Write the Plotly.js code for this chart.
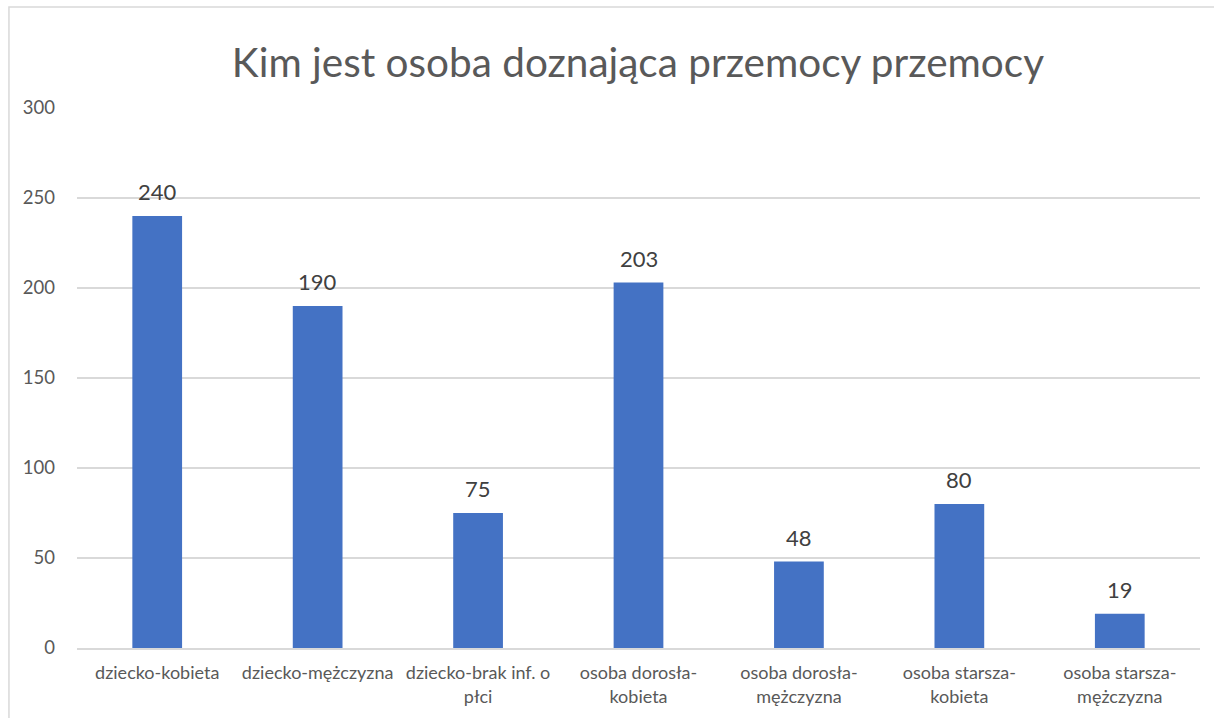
<!DOCTYPE html>
<html>
<head>
<meta charset="utf-8">
<script src="https://cdn.plot.ly/plotly-3.0.1.min.js"></script>
<style>html,body{margin:0;padding:0;background:#fff;}#chart{width:1214px;height:718px;}</style>
</head>
<body>
<div id="chart"></div>
<script>
const categories = [
  "dziecko-kobieta",
  "dziecko-mężczyzna",
  "dziecko-brak inf. o<br>płci",
  "osoba dorosła-<br>kobieta",
  "osoba dorosła-<br>mężczyzna",
  "osoba starsza-<br>kobieta",
  "osoba starsza-<br>mężczyzna"
];
const values = [240, 190, 75, 203, 48, 80, 19];
const yTicks = [0, 50, 100, 150, 200, 250, 300];
const titleText = "Kim jest osoba doznająca przemocy przemocy";

const fontFam = "Lato, 'Open Sans', sans-serif";

const trace = {
  type: "bar",
  x: categories,
  y: values,
  marker: {color: "#4472C4"},
  hoverinfo: "skip"
};

const labelAnnotations = categories.map((c, i) => ({
  x: c,
  y: values[i],
  xref: "x",
  yref: "y",
  text: String(values[i]),
  showarrow: false,
  yanchor: "bottom",
  xanchor: "center",
  yshift: 9,
  font: {family: fontFam, size: 22, color: "#404040"}
}));

const layout = {
  width: 1214,
  height: 718,
  margin: {l: 77, r: 14, t: 108, b: 70},
  paper_bgcolor: "#ffffff",
  plot_bgcolor: "#ffffff",
  bargap: 0.69,
  showlegend: false,
  title: {
    text: titleText,
    font: {family: fontFam, size: 40.5, color: "#595959"},
    x: 0.5255, xanchor: "center",
    y: 0.913, yanchor: "middle"
  },
  xaxis: {
    type: "category",
    showgrid: false,
    showline: true,
    linecolor: "#d9d9d9",
    linewidth: 1.5,
    ticks: "",
    ticklabelstandoff: 8,
    tickfont: {family: fontFam, size: 18, color: "#595959"},
    automargin: false
  },
  yaxis: {
    range: [0, 300],
    tickvals: yTicks,
    ticktext: yTicks.map(String),
    showgrid: true,
    gridcolor: "#d9d9d9",
    gridwidth: 1.5,
    zeroline: false,
    showline: false,
    ticks: "",
    ticklabelstandoff: 21,
    tickfont: {family: fontFam, size: 18.5, color: "#595959"},
    automargin: false
  },
  annotations: labelAnnotations,
  shapes: [{
    type: "rect",
    xref: "paper", yref: "paper",
    x0: -0.0606, x1: 1.02,
    y0: -0.16, y1: 1.187,
    line: {color: "#d9d9d9", width: 1.5},
    fillcolor: "rgba(0,0,0,0)",
    layer: "below"
  }]
};

Plotly.newPlot("chart", [trace], layout, {staticPlot: true, displayModeBar: false});
</script>
</body>
</html>
